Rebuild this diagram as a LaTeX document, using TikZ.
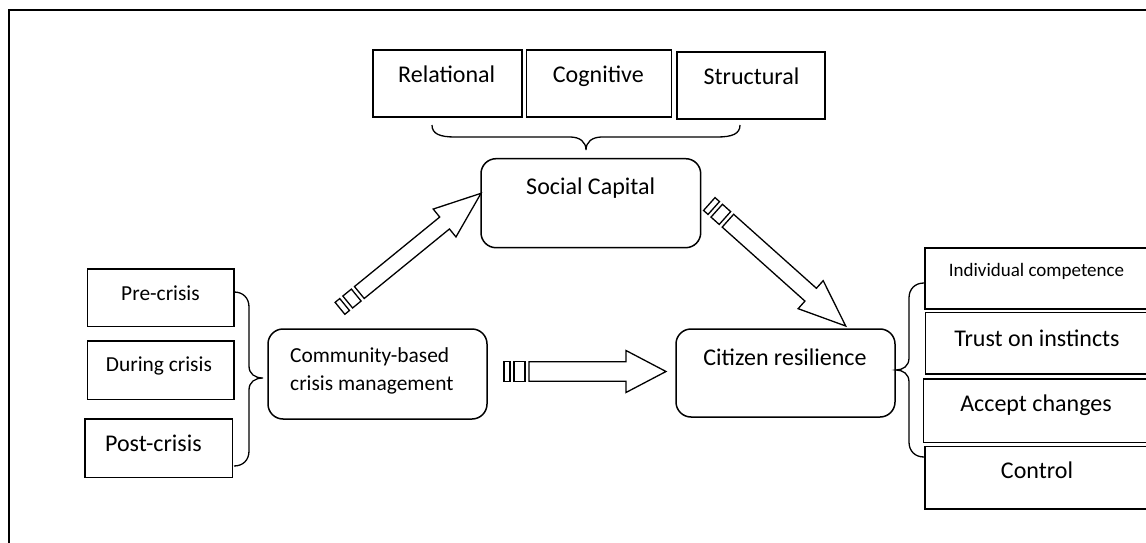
\documentclass[tikz,border=0pt]{standalone}
\usepackage{fontspec}
\setmainfont{Carlito}
\newcommand\blkarrow[4]{%
  \draw[arrowline] (0,0) -- (-#4,-#3) -- (-#4,-#2) -- (-#1,-#2) -- (-#1,#2) -- (-#4,#2) -- (-#4,#3) -- cycle;
  \draw[arrowline] ({-#1-4},-#2) rectangle ({-#1-15},#2);
  \draw[arrowline] ({-#1-19},-#2) rectangle ({-#1-25},#2);
}
\begin{document}
\begin{tikzpicture}[x=1pt,y=-1pt,
  box/.style={draw, line width=1.5pt, inner sep=0pt},
  rbox/.style={box, rounded corners=15pt},
  lbl/.style={anchor=base, inner sep=0pt, font=\fontsize{24}{28}\selectfont},
  lblm/.style={lbl, font=\fontsize{21.4}{26}\selectfont},
  lbls/.style={lbl, font=\fontsize{19}{23}\selectfont},
  arrowline/.style={draw, line width=1.3pt, fill=white, line join=miter},
  bracel/.style={draw, line width=1.3pt}]
\useasboundingbox (0,0) rectangle (1146,543);
\clip (0,0) rectangle (1146,543);
\fill[white] (0,0) rectangle (1146,543);
\draw[line width=1.8pt] (9,10) rectangle (1170,570);

% top boxes
\node[box, minimum width=149pt, minimum height=67pt] (rel) at (447.5,83.5) {};
\node[lbl] (relt) at (446.7,82.7) {Relational};
\node[box, minimum width=145pt, minimum height=67pt] (cog) at (599.2,83.5) {};
\node[lbl] (cogt) at (598.3,82.7) {Cognitive};
\node[box, minimum width=148pt, minimum height=67pt] (str) at (751,85.5) {};
\node[lbl] (strt) at (751.5,84.3) {Structural};

% main boxes
\node[rbox, minimum width=219.7pt, minimum height=89pt] (sc) at (590.85,203.2) {};
\node[lbl] (sct) at (590.7,194) {Social Capital};
\node[rbox, minimum width=219pt, minimum height=90pt] (cbm) at (377.5,374) {};
\node[lblm, anchor=base west] (cbm1) at (290,362.5) {Community-based};
\node[lblm, anchor=base west] (cbm2) at (290,390.5) {crisis management};
\node[rbox, minimum width=219pt, minimum height=88pt] (cr) at (785.5,373) {};
\node[lbl] (crt) at (785,365) {Citizen resilience};

% left boxes
\node[box, minimum width=146.7pt, minimum height=57.7pt] (pre) at (160.65,297.85) {};
\node[lblm] (pret) at (160.5,300) {Pre-crisis};
\node[box, minimum width=146.7pt, minimum height=58.3pt] (dur) at (160.65,370.15) {};
\node[lblm] (durt) at (158.9,371.7) {During crisis};
\node[box, minimum width=147.7pt, minimum height=58.3pt] (post) at (158.85,448.15) {};
\node[lbl] (postt) at (153.4,451.7) {Post-crisis};

% right boxes
\node[box, minimum width=230pt, minimum height=61pt] (ind) at (1040,278.5) {};
\node[lbls] (indt) at (1036.5,276) {Individual competence};
\node[box, minimum width=230pt, minimum height=61.3pt] (tru) at (1040.7,343.35) {};
\node[lbl] (trut) at (1037,346) {Trust on instincts};
\node[box, minimum width=232pt, minimum height=63.7pt] (acc) at (1039.7,410.85) {};
\node[lbl] (acct) at (1036,411.7) {Accept changes};
\node[box, minimum width=230pt, minimum height=62.3pt] (con) at (1040,477.85) {};
\node[lbl] (cont) at (1037,478) {Control};

% braces
\draw[bracel] (432,125) .. controls (432,134) and (440,137) .. (455,137) -- (570,137)
  .. controls (580,137) and (586,142) .. (586,150)
  .. controls (586,142) and (592,137) .. (602,137) -- (717,137)
  .. controls (732,137) and (740,134) .. (740,125);
\draw[bracel] (234,292) .. controls (243,292) and (249,298) .. (249,307) -- (249,366)
  .. controls (249,374) and (255,378) .. (263,378)
  .. controls (255,378) and (249,382) .. (249,390) -- (249,451)
  .. controls (249,460) and (243,466) .. (234,466);
\draw[bracel] (924,283) .. controls (915,283) and (909,289) .. (909,298) -- (909,358)
  .. controls (909,366) and (903,370) .. (896,370)
  .. controls (903,370) and (909,374) .. (909,382) -- (909,442)
  .. controls (909,451) and (915,457) .. (924,457);

% block arrows
\begin{scope}[shift={(481,193.3)}, rotate=39.2]
  \blkarrow{157}{7.7}{18}{47}
\end{scope}
\begin{scope}[shift={(845.7,326)}, rotate=-41.8]
  \blkarrow{158}{8.6}{18.8}{47}
\end{scope}
\begin{scope}[shift={(666,371.5)}]
  \blkarrow{137}{9.7}{21}{40}
\end{scope}
\end{tikzpicture}
\end{document}
